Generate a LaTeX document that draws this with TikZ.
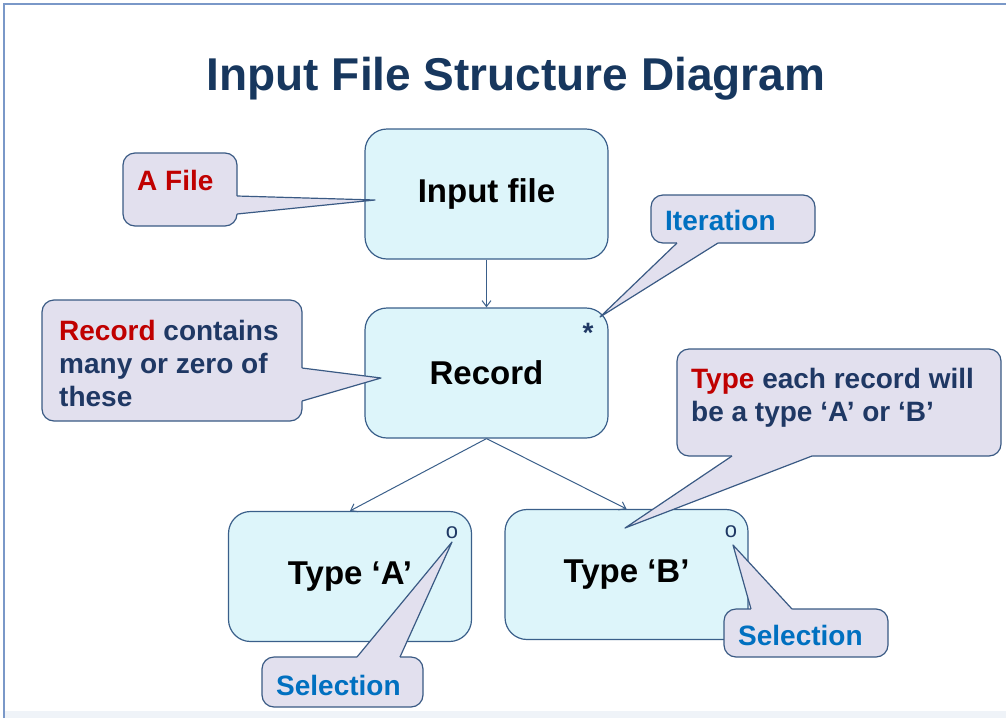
\documentclass[tikz,border=0pt]{standalone}
\usepackage{fontspec}
\setmainfont{Liberation Sans}
\usetikzlibrary{arrows.meta}

\definecolor{boxfill}{HTML}{DDF5FA}
\definecolor{boxline}{HTML}{3A5F8A}
\definecolor{notefill}{HTML}{E2E0EE}
\definecolor{noteline}{HTML}{3A5A84}
\definecolor{notered}{HTML}{C00000}
\definecolor{navy}{HTML}{1F3864}
\definecolor{noteblue}{HTML}{0070C0}
\definecolor{titlenavy}{HTML}{17375E}
\definecolor{framecol}{HTML}{7A98C8}

\tikzset{
  block/.style={draw=boxline, fill=boxfill, line width=1.2pt, rounded corners=22pt,
    inner sep=0pt, minimum width=243pt, minimum height=130pt,
    font=\fontsize{33}{40}\selectfont\bfseries},
  notebox/.style={draw=noteline, fill=notefill, line width=1.2pt, rounded corners=12pt, inner sep=0pt},
  noteedge/.style={draw=noteline, line width=1.2pt, line join=round},
  notetext/.style={font=\fontsize{28}{33}\selectfont\bfseries, text=navy, align=left,
    inner sep=0pt, anchor=base west},
  cornersign/.style={text=navy, inner sep=0pt},
  flow/.style={draw=boxline, line width=1pt, -{Straight Barb[length=6pt, width=9pt]}},
}

\begin{document}
\begin{tikzpicture}[x=1pt, y=-1pt]
  \useasboundingbox (0,0) rectangle (1006,718);

  % slide frame
  \fill[framecol!12] (5,711) rectangle (1006,718);
  \draw[framecol, line width=1.5pt] (4,718) -- (4,4) -- (1006,4);

  \node[font=\fontsize{46}{50}\selectfont\bfseries, text=titlenavy, anchor=base] (title) at (516,90) {Input File Structure Diagram};

  % structure boxes
  \node[block] (input) at (486.5,194) {Input file};
  \node[block] (record) at (486.5,373) {Record};
  \node[block] (typea) at (350,576.5) {Type ‘A’};
  \node[block] (typeb) at (626.5,574.5) {Type ‘B’};

  \draw[flow] (input) -- (record);
  \draw[flow] (record.south) -- (typea.north);
  \draw[flow] (record.south) -- (typeb.north);

  \node[cornersign, font=\fontsize{28}{30}\selectfont\bfseries] (star) at (588,333) {*};
  \node[cornersign, font=\fontsize{22}{24}\selectfont] (opta) at (452,533) {o};
  \node[cornersign, font=\fontsize{22}{24}\selectfont] (optb) at (731,532) {o};

  % callouts
  \node[notebox, minimum width=114pt, minimum height=73pt] (afile) at (180,189.5) {};
  \fill[notefill] (233,196) -- (237,196) -- (375,200) -- (237,214) -- (233,214) -- cycle;
  \draw[noteedge] (237,196) -- (375,200) -- (237,214);
  \node[notetext] (afiletext) at (137,190) {\textcolor{notered}{A File}};

  \node[notebox, minimum width=260pt, minimum height=121pt] (recnote) at (172,360.5) {};
  \fill[notefill] (298,368) -- (302,368) -- (381,378) -- (302,401) -- (298,401) -- cycle;
  \draw[noteedge] (302,368) -- (381,378) -- (302,401);
  \node[notetext] (recnotetext) at (59,406) {\textcolor{notered}{Record} contains\\many or zero of\\these};

  \node[notebox, minimum width=164pt, minimum height=48pt] (iter) at (733,219) {};
  \fill[notefill] (677,239) -- (677,243) -- (600,317) -- (718,243) -- (718,239) -- cycle;
  \draw[noteedge] (677,243) -- (600,317) -- (718,243);
  \node[notetext, text=noteblue] (itertext) at (665,230) {Iteration};

  \node[notebox, minimum width=324pt, minimum height=107pt] (typenote) at (839,402.5) {};
  \fill[notefill] (732,452) -- (732,456) -- (625,528) -- (812,456) -- (812,452) -- cycle;
  \draw[noteedge] (732,456) -- (625,528) -- (812,456);
  \node[notetext] (typenotetext) at (691,421) {\textcolor{notered}{Type} each record will\\be a type ‘A’ or ‘B’};

  \node[notebox, minimum width=161pt, minimum height=50pt] (sela) at (342.5,682) {};
  \fill[notefill] (357,661) -- (357,657) -- (452,542) -- (400,657) -- (400,661) -- cycle;
  \draw[noteedge] (357,657) -- (452,542) -- (400,657);
  \node[notetext, text=noteblue] (selatext) at (276,695) {Selection};

  \node[notebox, minimum width=164pt, minimum height=48pt] (selb) at (806,633) {};
  \fill[notefill] (751,613) -- (751,609) -- (733,545) -- (792,609) -- (792,613) -- cycle;
  \draw[noteedge] (751,609) -- (733,545) -- (792,609);
  \node[notetext, text=noteblue] (selbtext) at (738,645) {Selection};
\end{tikzpicture}
\end{document}
